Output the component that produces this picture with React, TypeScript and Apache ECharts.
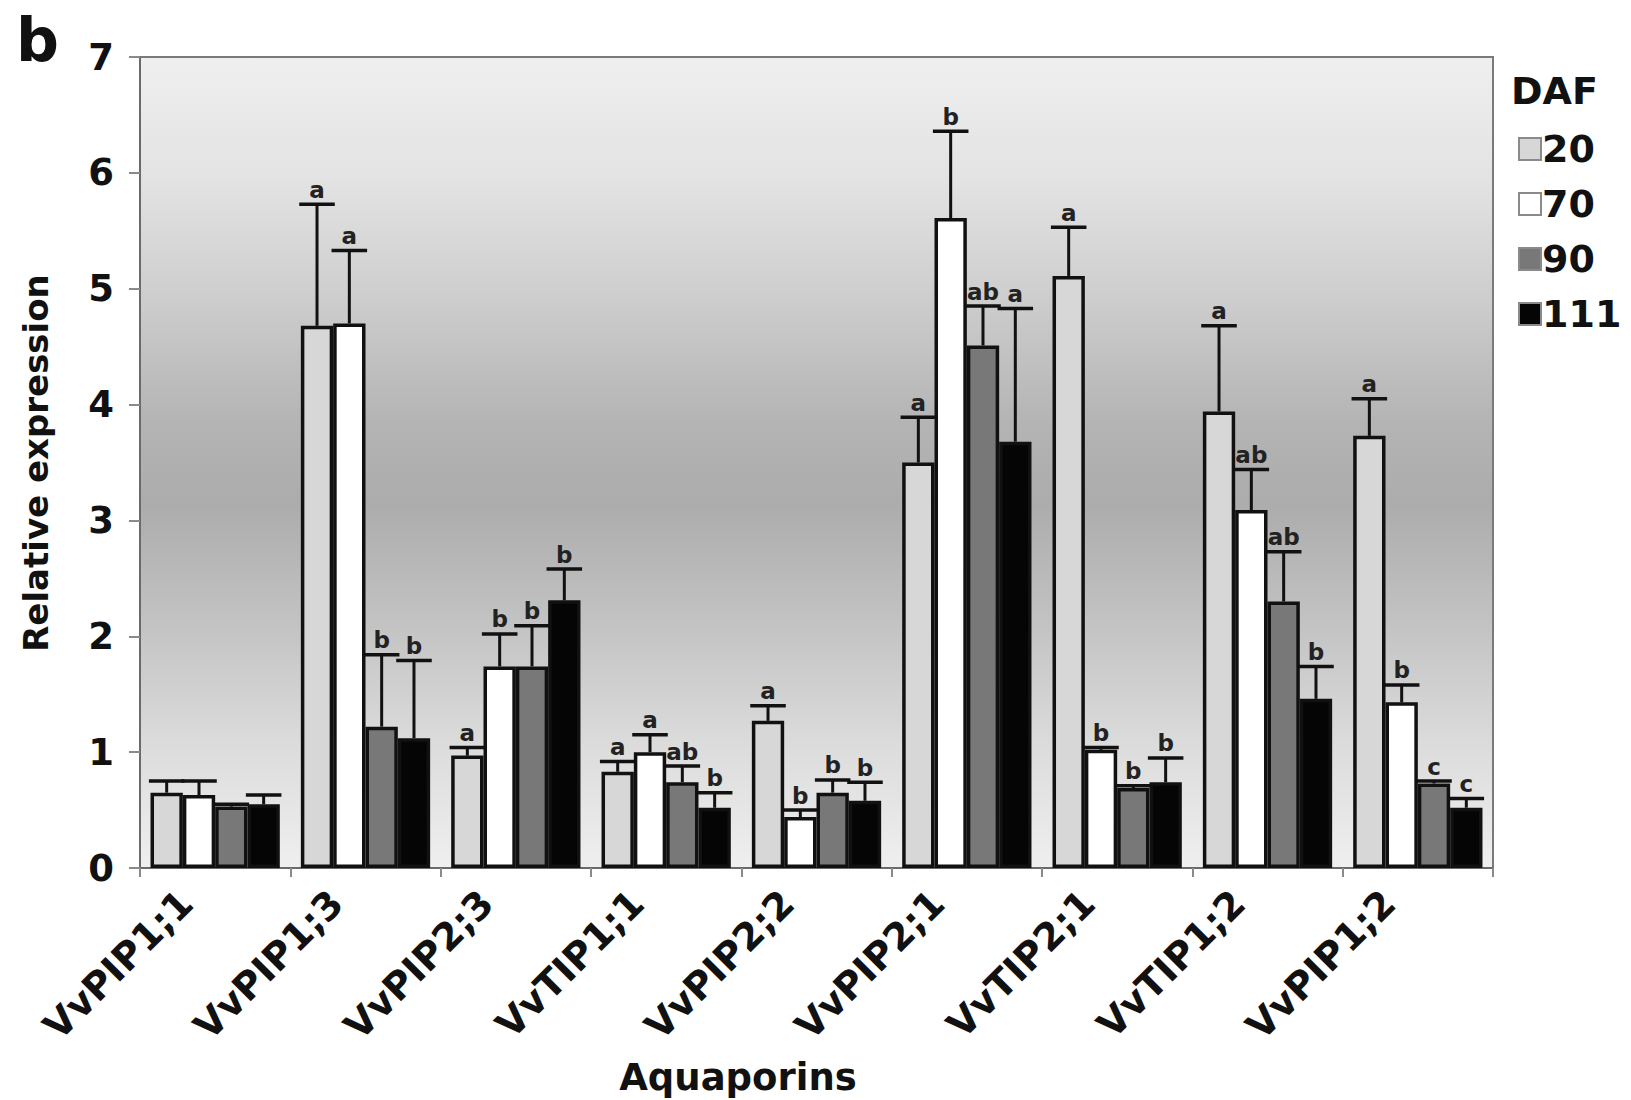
import React, { useEffect, useRef } from 'react';
import * as echarts from 'echarts';

const categories = ['VvPIP1;1', 'VvPIP1;3', 'VvPIP2;3', 'VvTIP1;1', 'VvPIP2;2', 'VvPIP2;1', 'VvTIP2;1', 'VvTIP1;2', 'VvPIP1;2'];
const dafNames = ['20', '70', '90', '111'];

const daf20 = [0.65, 4.68, 0.97, 0.83, 1.27, 3.50, 5.11, 3.94, 3.73];
const daf20Top = [0.75, 5.73, 1.04, 0.92, 1.40, 3.89, 5.53, 4.68, 4.05];
const daf20Sig = ['', 'a', 'a', 'a', 'a', 'a', 'a', 'a', 'a'];

const daf70 = [0.63, 4.70, 1.74, 1.00, 0.44, 5.61, 1.02, 3.09, 1.43];
const daf70Top = [0.75, 5.33, 2.02, 1.15, 0.50, 6.36, 1.04, 3.44, 1.58];
const daf70Sig = ['', 'a', 'b', 'a', 'b', 'b', 'b', 'ab', 'b'];

const daf90 = [0.53, 1.22, 1.74, 0.74, 0.65, 4.51, 0.69, 2.30, 0.73];
const daf90Top = [0.55, 1.84, 2.09, 0.88, 0.76, 4.85, 0.71, 2.73, 0.75];
const daf90Sig = ['', 'b', 'b', 'ab', 'b', 'ab', 'b', 'ab', 'c'];

const daf111 = [0.55, 1.12, 2.31, 0.52, 0.58, 3.68, 0.74, 1.46, 0.52];
const daf111Top = [0.63, 1.79, 2.58, 0.65, 0.74, 4.83, 0.95, 1.74, 0.60];
const daf111Sig = ['', 'b', 'b', 'b', 'b', 'a', 'b', 'b', 'c'];

const yTicks = [0, 1, 2, 3, 4, 5, 6, 7];

const FONT = 'DejaVu Sans';
const barColors = ['#d7d7d7', '#ffffff', '#787878', '#050505'];
const GAP = 0.14;

export default function App() {
  const ref = useRef<HTMLDivElement>(null);
  useEffect(() => {
    const chart = echarts.init(ref.current!, null, { renderer: 'svg' });
    const values = [daf20, daf70, daf90, daf111];
    const tops = [daf20Top, daf70Top, daf90Top, daf111Top];
    const sigs = [daf20Sig, daf70Sig, daf90Sig, daf111Sig];

    const barSeries = dafNames.map((name, i) => ({
      name,
      type: 'bar',
      data: values[i],
      barGap: '0%',
      barCategoryGap: (GAP * 100) + '%',
      itemStyle: { color: barColors[i], borderColor: '#111', borderWidth: 3.5 },
      z: 2,
    }));

    const errSeries = dafNames.map((name, i) => ({
      name: 'err' + name,
      type: 'custom',
      z: 4,
      data: values[i].map((v, k) => [k, v, tops[i][k]]),
      renderItem: (params: any, api: any) => {
        const x = api.value(0);
        const v = api.value(1);
        const t = api.value(2);
        const base = api.coord([x, v]);
        const top = api.coord([x, t]);
        const band = api.size([1, 0])[0];
        const total = band * (1 - GAP);
        const bw = total / 4;
        const cx = base[0] - total / 2 + bw * (i + 0.5);
        const capW = bw * 1.1;
        const sig = sigs[i][params.dataIndex];
        const children: any[] = [
          { type: 'line', shape: { x1: cx, y1: base[1], x2: cx, y2: top[1] }, style: { stroke: '#111', lineWidth: 3 } },
          { type: 'line', shape: { x1: cx - capW / 2, y1: top[1], x2: cx + capW / 2, y2: top[1] }, style: { stroke: '#111', lineWidth: 3.5 } },
        ];
        if (sig) {
          children.push({
            type: 'text',
            x: cx,
            y: top[1] - 3,
            style: { text: sig, fill: '#222', font: `bold 23px "${FONT}"`, textAlign: 'center', textVerticalAlign: 'bottom' },
          });
        }
        return { type: 'group', children };
      },
    }));

    const option: any = {
      animation: false,
      backgroundColor: '#ffffff',
      textStyle: { fontFamily: FONT },
      grid: {
        left: 140, right: 138, top: 57, bottom: 232,
        show: true,
        borderColor: '#7a7a7a',
        borderWidth: 2,
        backgroundColor: new echarts.graphic.LinearGradient(0, 0, 0, 1, [
          { offset: 0, color: '#efefef' },
          { offset: 0.15, color: '#e3e3e3' },
          { offset: 0.3, color: '#cdcdcd' },
          { offset: 0.45, color: '#b4b4b4' },
          { offset: 0.55, color: '#acacac' },
          { offset: 0.7, color: '#c3c3c3' },
          { offset: 0.85, color: '#dcdcdc' },
          { offset: 1, color: '#efefef' },
        ]),
      },
      legend: {
        data: dafNames,
        orient: 'vertical',
        left: 1513,
        top: 125,
        itemWidth: 22,
        itemHeight: 22,
        itemGap: 17,
        icon: 'rect',
        itemStyle: { borderColor: '#8a8a8a', borderWidth: 2 },
        textStyle: { fontFamily: FONT, fontSize: 38, fontWeight: 'bold', color: '#111', lineHeight: 38, padding: [0, 0, 0, -4] },
      },
      xAxis: {
        type: 'category',
        data: categories,
        axisLine: { lineStyle: { color: '#6a6a6a', width: 2 } },
        axisTick: { show: true, alignWithLabel: false, length: 9, lineStyle: { color: '#8a8a8a', width: 2 } },
        axisLabel: { interval: 0, rotate: 45, margin: 0, padding: [0, 41, 0, 0], fontFamily: FONT, fontSize: 38, fontWeight: 'bold', color: '#111' },
      },
      yAxis: {
        type: 'value',
        min: yTicks[0],
        max: yTicks[yTicks.length - 1],
        interval: 1,
        splitLine: { show: false },
        axisLine: { show: true, lineStyle: { color: '#6a6a6a', width: 2 } },
        axisTick: { show: true, length: 11, lineStyle: { color: '#8a8a8a', width: 2 } },
        axisLabel: { margin: 26, fontFamily: FONT, fontSize: 37, fontWeight: 'bold', color: '#111' },
      },
      graphic: [
        { type: 'text', left: 16, top: 10, style: { text: 'b', font: `bold 60px "${FONT}"`, fill: '#111' } },
        { type: 'text', x: 1511, y: 91, style: { text: 'DAF', font: `bold 38px "${FONT}"`, fill: '#111', textVerticalAlign: 'middle' } },
        { type: 'text', x: 738, y: 1077, style: { text: 'Aquaporins', font: `bold 37px "${FONT}"`, fill: '#111', textAlign: 'center', textVerticalAlign: 'middle' } },
        { type: 'text', x: 36, y: 463, rotation: Math.PI / 2, style: { text: 'Relative expression', font: `bold 34px "${FONT}"`, fill: '#111', textAlign: 'center', textVerticalAlign: 'middle' } },
      ],
      series: [...barSeries, ...errSeries],
    };
    chart.setOption(option);
    return () => chart.dispose();
  }, []);
  return <div ref={ref} style={{ position: 'absolute', left: 0, top: 0, width: 1631, height: 1100 }} />;
}
